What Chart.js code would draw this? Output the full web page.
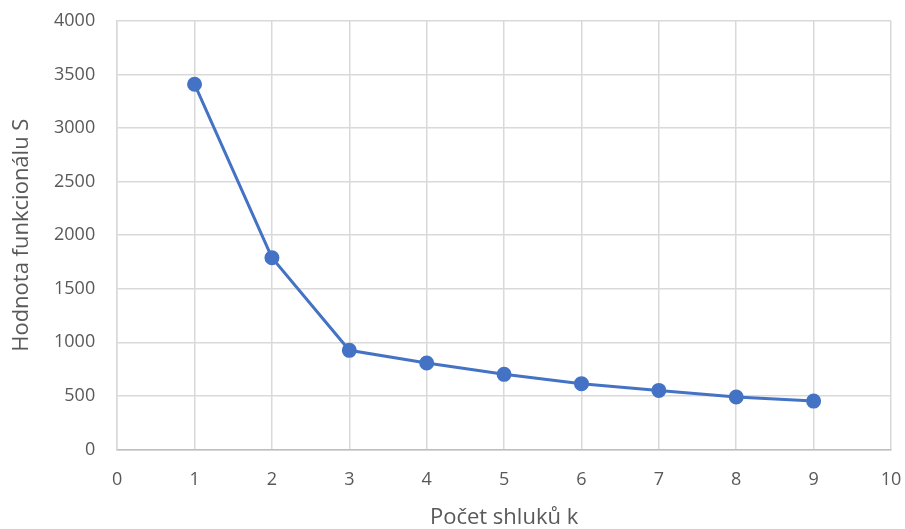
<!DOCTYPE html>
<html>
<head>
<meta charset="utf-8">
<script src="https://cdn.jsdelivr.net/npm/chart.js@4.4.0/dist/chart.umd.min.js"></script>
<style>
  html, body { margin: 0; padding: 0; background: #fff; }
  #wrap { width: 905px; height: 529px; }
</style>
</head>
<body>
<div id="wrap"><canvas id="chart"></canvas></div>
<script>
// pocet shluku k vs hodnota funkcionalu S
var kValues = [1, 2, 3, 4, 5, 6, 7, 8, 9];
var sValues = [3410, 1790, 925, 807, 701, 614, 551, 489, 451];

var xTitle = 'Počet shluků k';
var yTitle = 'Hodnota funkcionálu S';

var points = [];
for (var i = 0; i < kValues.length; i++) {
    points.push({ x: kValues[i], y: sValues[i] });
}

var textColor = '#595959';
var gridColor = '#d9d9d9';
var fontFam = '"Open Sans", "Liberation Sans", sans-serif';

var config = {
    type: 'line',
    data: {
        datasets: [{
            data: points,
            borderColor: '#4472C4',
            backgroundColor: '#4472C4',
            borderWidth: 3,
            pointRadius: 6,
            pointHoverRadius: 6,
            tension: 0
        }]
    },
    options: {
        responsive: true,
        maintainAspectRatio: false,
        animation: false,
        layout: { padding: { top: 21, right: 14, left: 0, bottom: 0 } },
        plugins: {
            legend: { display: false },
            tooltip: { enabled: false }
        },
        scales: {
            x: {
                type: 'linear',
                min: 0,
                max: 10,
                // gap done with invisible tick marks so the edge overhang stays small
                ticks: { stepSize: 1, color: textColor, padding: 0, font: { family: fontFam, size: 18 } },
                grid: { color: gridColor, lineWidth: 1.5, drawTicks: true, tickLength: 20, tickColor: 'rgba(0,0,0,0)' },
                border: { color: '#bfbfbf', width: 1.5 },
                title: { display: true, text: xTitle, color: textColor, padding: { top: 16, bottom: 0 }, font: { family: fontFam, size: 22, lineHeight: 1 } }
            },
            y: {
                min: 0,
                max: 4000,
                ticks: {
                    stepSize: 500, color: textColor, padding: 0, font: { family: fontFam, size: 18 },
                    callback: function(v) { return String(v); }
                },
                grid: { color: gridColor, lineWidth: 1.5, drawTicks: true, tickLength: 22, tickColor: 'rgba(0,0,0,0)' },
                border: { color: gridColor, width: 1.5 },
                title: { display: true, text: yTitle, color: textColor, padding: { top: 11, bottom: 21 }, font: { family: fontFam, size: 22, lineHeight: 1 } }
            }
        }
    }
};

var ctx = document.getElementById('chart').getContext('2d');
window.GenChart = new Chart(ctx, config);
</script>
</body>
</html>
